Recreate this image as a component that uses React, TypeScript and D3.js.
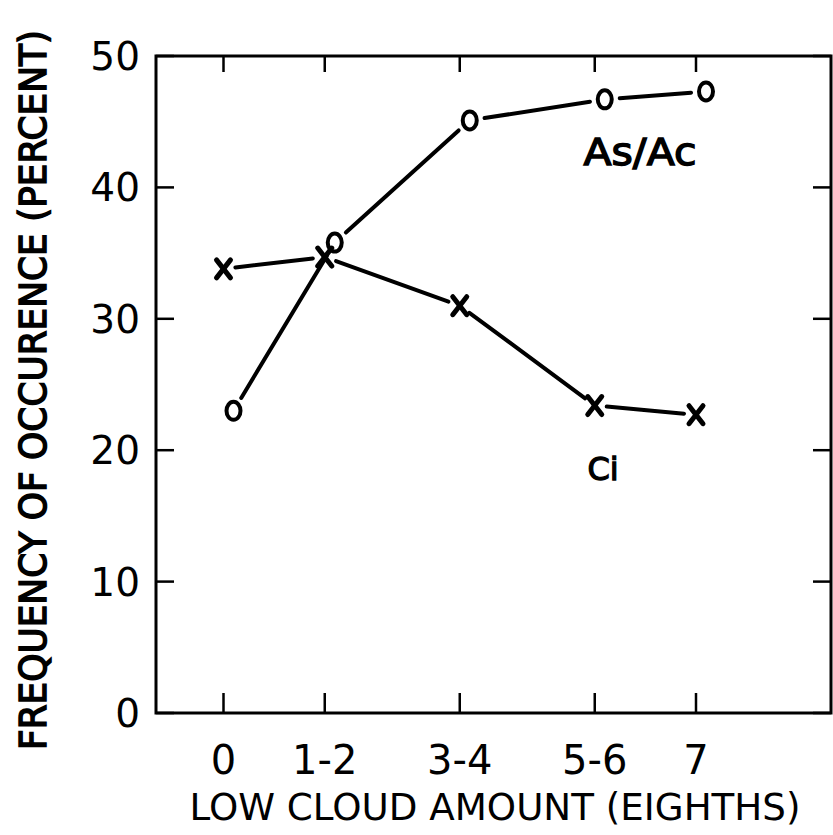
import * as d3 from 'd3';
import React from 'react';

// data
const categories = ['0', '1-2', '3-4', '5-6', '7'];
const categoryMid = [0, 1.5, 3.5, 5.5, 7]; // eighths, mid of each class
const asAcValues = [23.0, 35.8, 45.1, 46.7, 47.3];
const ciValues = [33.8, 34.7, 31.0, 23.4, 22.7];
const yTicks = [0, 10, 20, 30, 40, 50];

const W = 833;
const H = 835;
const frame = { left: 156, right: 831, top: 56, bottom: 713 };
const FONT = "'DejaVu Sans', sans-serif";

const x = d3.scaleLinear().domain([-1, 9]).range([frame.left, frame.right]);
const y = d3.scaleLinear().domain([0, 50]).range([frame.bottom, frame.top]);

type Pt = { px: number; py: number };

// segments between markers, with a small gap at each marker (hand drawn look)
function gappedSegments(pts: Pt[], gap: number) {
  const segs: string[] = [];
  for (let i = 0; i < pts.length - 1; i++) {
    const a = pts[i];
    const b = pts[i + 1];
    const dx = b.px - a.px;
    const dy = b.py - a.py;
    const len = Math.hypot(dx, dy);
    const ux = dx / len;
    const uy = dy / len;
    const line = d3.line<[number, number]>();
    segs.push(
      line([
        [a.px + ux * gap, a.py + uy * gap],
        [b.px - ux * gap, b.py - uy * gap],
      ]) as string
    );
  }
  return segs;
}

const App: React.FC = () => {
  const asAcShift = 10; // the o symbols sit a bit right of the ticks
  const asAcPts: Pt[] = asAcValues.map((v, i) => ({
    px: x(categoryMid[i]) + asAcShift,
    py: y(v),
  }));
  const ciPts: Pt[] = ciValues.map((v, i) => ({
    px: x(categoryMid[i]),
    py: y(v),
  }));

  const tickLen = 18;

  return (
    <svg
      width={W}
      height={H}
      style={{ position: 'absolute', left: 0, top: 0, background: '#fff' }}
    >
      {/* frame */}
      <rect
        x={frame.left}
        y={frame.top}
        width={frame.right - frame.left}
        height={frame.bottom - frame.top}
        fill="none"
        stroke="#000"
        strokeWidth={3}
      />

      {/* y ticks, left and right, inward */}
      {yTicks.map((t) => (
        <g key={'y' + t}>
          <line
            x1={frame.left}
            x2={frame.left + tickLen}
            y1={y(t)}
            y2={y(t)}
            stroke="#000"
            strokeWidth={2.5}
          />
          <line
            x1={frame.right}
            x2={frame.right - tickLen}
            y1={y(t)}
            y2={y(t)}
            stroke="#000"
            strokeWidth={2.5}
          />
          <text
            x={140}
            y={y(t)}
            dy="0.36em"
            textAnchor="end"
            fontFamily={FONT}
            fontSize={39}
          >
            {t}
          </text>
        </g>
      ))}

      {/* x ticks, top and bottom, inward */}
      {categories.map((c, i) => (
        <g key={'x' + c}>
          <line
            x1={x(categoryMid[i])}
            x2={x(categoryMid[i])}
            y1={frame.bottom}
            y2={frame.bottom - 20}
            stroke="#000"
            strokeWidth={2.5}
          />
          <line
            x1={x(categoryMid[i])}
            x2={x(categoryMid[i])}
            y1={frame.top}
            y2={frame.top + 16}
            stroke="#000"
            strokeWidth={2.5}
          />
          <text
            x={x(categoryMid[i])}
            y={774}
            textAnchor="middle"
            fontFamily={FONT}
            fontSize={40}
          >
            {c}
          </text>
        </g>
      ))}

      {/* As/Ac series */}
      {gappedSegments(asAcPts, 15).map((d, i) => (
        <path key={'a' + i} d={d} fill="none" stroke="#000" strokeWidth={4} strokeLinecap="round" />
      ))}
      {asAcPts.map((p, i) => (
        <ellipse
          key={'ao' + i}
          cx={p.px}
          cy={p.py}
          rx={7}
          ry={9}
          fill="none"
          stroke="#000"
          strokeWidth={4}
        />
      ))}

      {/* Ci series */}
      {gappedSegments(ciPts, 12).map((d, i) => (
        <path key={'c' + i} d={d} fill="none" stroke="#000" strokeWidth={4} strokeLinecap="round" />
      ))}
      {ciPts.map((p, i) => (
        <g key={'cx' + i} stroke="#000" strokeWidth={5} strokeLinecap="round">
          <line x1={p.px - 7} y1={p.py - 9} x2={p.px + 7} y2={p.py + 9} />
          <line x1={p.px + 7} y1={p.py - 9} x2={p.px - 7} y2={p.py + 9} />
        </g>
      ))}

      {/* series labels */}
      <text
        x={640}
        y={165}
        textAnchor="middle"
        fontFamily={FONT}
        fontSize={38}
        stroke="#000"
        strokeWidth={1.4}
        textLength={113}
        lengthAdjust="spacingAndGlyphs"
      >
        As/Ac
      </text>
      <text
        x={603}
        y={480}
        textAnchor="middle"
        fontFamily={FONT}
        fontSize={32}
        stroke="#000"
        strokeWidth={1.3}
      >
        Ci
      </text>

      {/* axis titles */}
      <text
        x={495}
        y={820}
        textAnchor="middle"
        fontFamily={FONT}
        fontSize={37}
        textLength={611}
        lengthAdjust="spacingAndGlyphs"
      >
        LOW CLOUD AMOUNT (EIGHTHS)
      </text>
      <text
        transform="translate(46,390) rotate(-90)"
        textAnchor="middle"
        fontFamily={FONT}
        fontSize={37}
        stroke="#000"
        strokeWidth={1.5}
        textLength={720}
        lengthAdjust="spacingAndGlyphs"
      >
        FREQUENCY OF OCCURENCE (PERCENT)
      </text>
    </svg>
  );
};

export default App;
